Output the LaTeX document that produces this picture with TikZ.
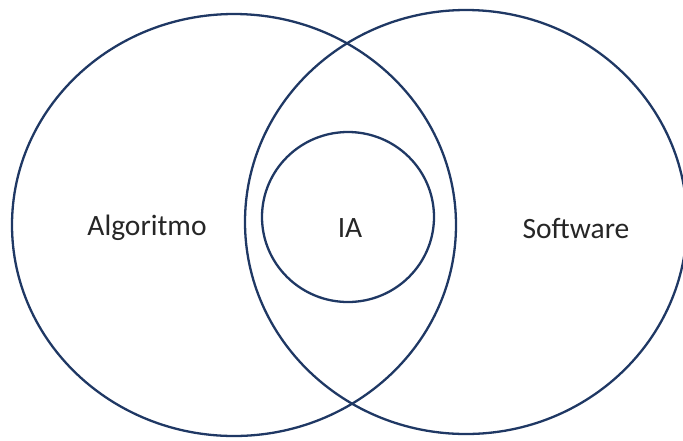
\documentclass[tikz,border=0pt]{standalone}
\usepackage{fontspec}
\setmainfont{Carlito}
\definecolor{navy}{HTML}{1F3864}
\begin{document}
\begin{tikzpicture}[x=1pt,y=-1pt,
  ring/.style={draw=navy,line width=2.3pt},
  lbl/.style={font=\fontsize{29.5}{34}\selectfont,text=black!85,inner sep=0pt}]
\useasboundingbox (0,0) rectangle (683,440);
\clip (0,0) rectangle (683,440);
% outer sets
\draw[ring] (234,225) ellipse [x radius=222, y radius=211];
\draw[ring] (466,222) ellipse [x radius=221, y radius=212];
% inner set
\draw[ring] (348,217) ellipse [x radius=86, y radius=85];
% labels
\node[lbl] (alg) at (147,228) {Algoritmo};
\node[lbl] (ia) at (350,228) {IA};
\node[lbl] (sw) at (576,228) {Software};
\end{tikzpicture}
\end{document}
